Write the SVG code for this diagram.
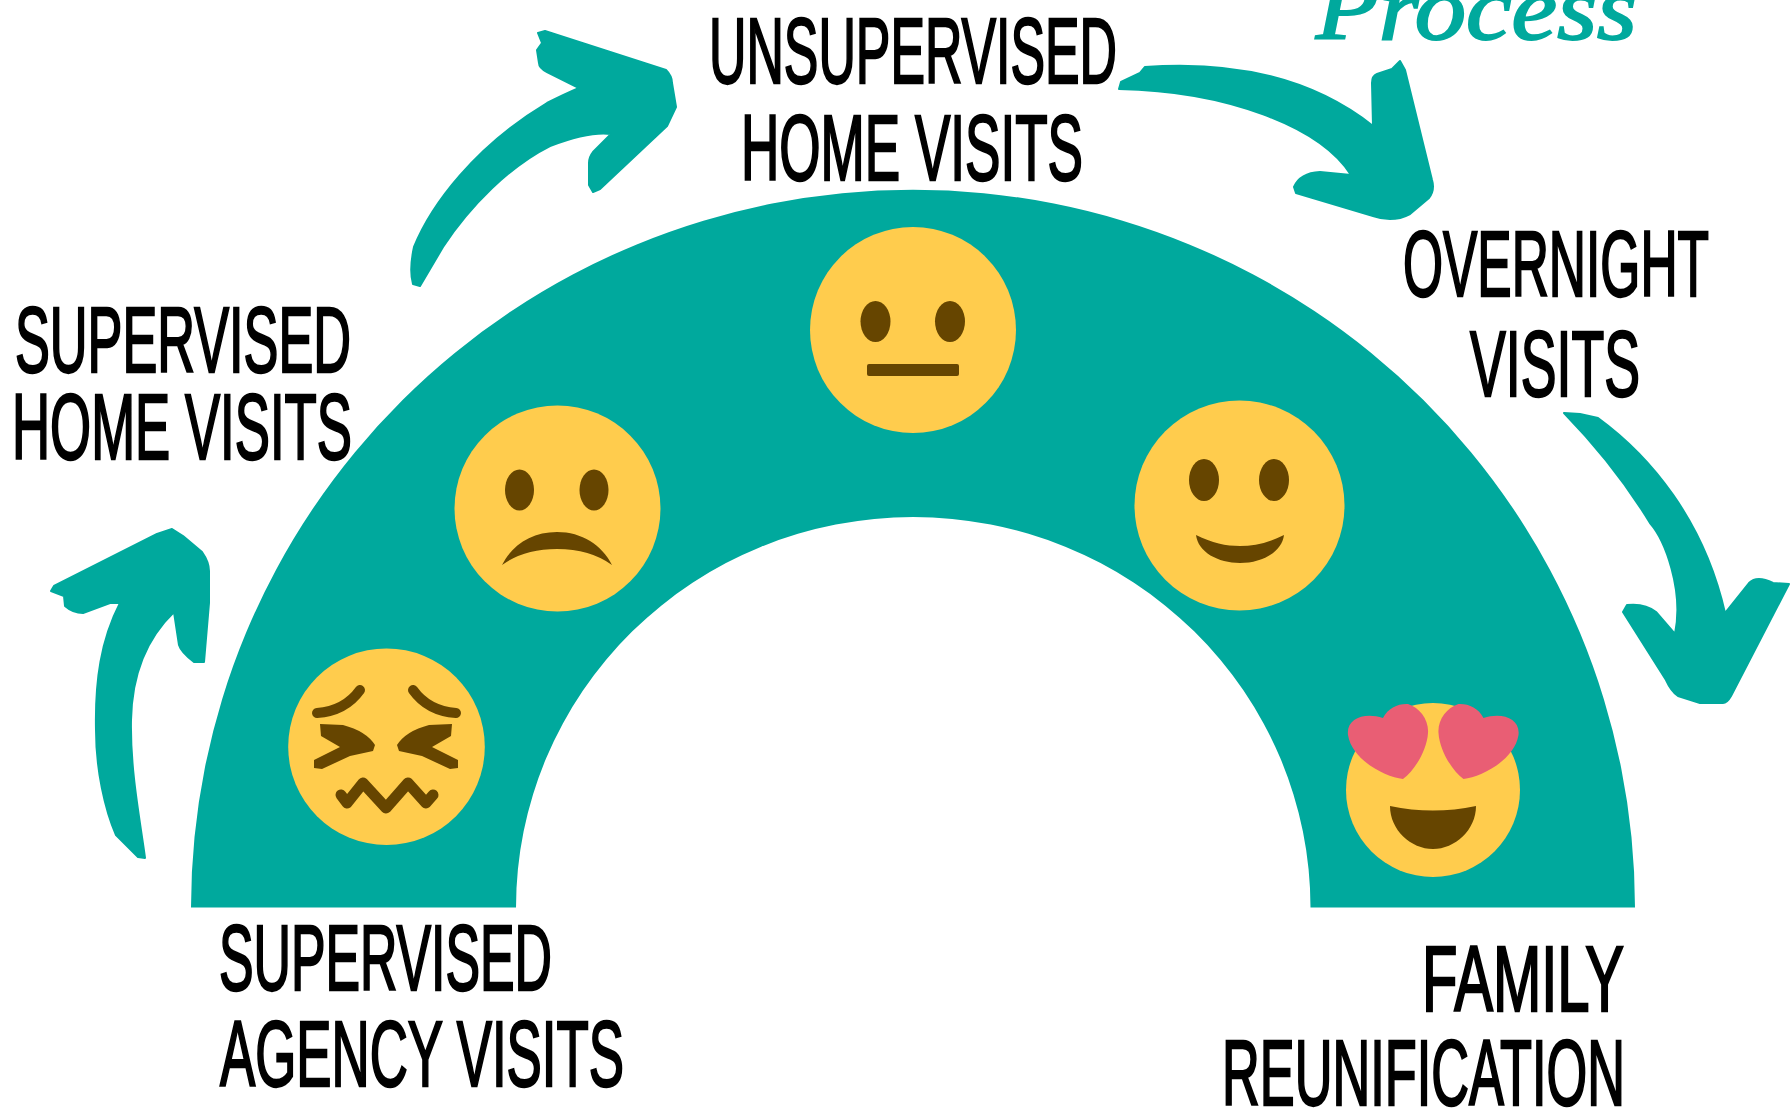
<svg xmlns="http://www.w3.org/2000/svg" width="1792" height="1110" viewBox="0 0 1792 1110">
<style>
.lbl{font-family:"Liberation Sans",Arial,sans-serif;font-size:92px;font-weight:400;fill:#000;stroke:#000;stroke-width:2.4px}
.teal{fill:#00a99d}
.arrow{fill:#00a99d;stroke:#00a99d;stroke-width:2;stroke-linejoin:round}
.face{fill:#ffcc4d}
.ft{fill:#664500}
.ln{fill:none;stroke:#664500;stroke-linecap:round;stroke-linejoin:round}
.heart{fill:#e95e74}
</style>
<rect width="1792" height="1110" fill="#fff"/>
<text x="1316" y="39" font-family="'Liberation Serif',serif" font-style="italic" font-size="90" fill="#00a99d" stroke="#00a99d" stroke-width="2" textLength="321" lengthAdjust="spacingAndGlyphs">Process</text>
<path id="arch" class="teal" d="M191 907.500A722 718 0 0 1 1635 907.500H1310.500A397.250 390.500 0 0 0 516 907.500Z"/>
<g id="connectors">
<path class="arrow" d="M145 858L138 857L116 835C105 810 96 770 96 730C95 680 101 640 120 603L110 603L83 613Q73 613 65 606L64 596L51 591L54 586L157 534L172 529L183 536L202 552Q209 562 209 571L209 603L204 662L194 662Q181 652 179 645L174 612C150 635 132 670 131 720C130 770 140 820 145 858Z"/>
<path class="arrow" d="M420 286L413 284Q409 270 414 247C431 205 475 146 547 103Q565 94 579 88L547 72Q539 68 539 63L537 50L542 43L538 33L545 31L666 70Q672 76 672 83L676 107L667 126L600 189L593 192L589 185L589 163Q589 157 593 152L611 134Q590 131 550 146C510 166 470 206 443 247L420 286Z"/>
<path class="arrow" d="M1119 89L1121 82L1140 73L1145 67C1230 61 1310 76 1373 126L1372 83Q1372 76 1377 74L1392 69L1400 61L1405 70L1432 180Q1435 190 1429 198L1410 214Q1393 223 1373 216L1296 193L1294 187Q1300 173 1320 172L1351 175C1320 126 1225 91 1119 89Z"/>
<path class="arrow" d="M1564 413L1580 414L1598 418C1650 456 1704 520 1725 613L1749 583Q1757 575 1773 583L1789 584L1731 696Q1727 703 1723 703L1700 703L1678 696Q1671 691 1666 680L1623 612L1627 605Q1645 603 1656 612L1675 634C1684 590 1665 540 1650 523C1630 490 1600 450 1564 413Z"/>
</g>
<g id="node-supervised-agency">
<circle class="face" cx="386.500" cy="746.700" r="98.300"/>
<path class="ln" stroke-width="10" d="M360 690Q345 711 317 713"/>
<path class="ln" stroke-width="10" d="M413 690Q428 711 456 713"/>
<path class="ft" d="M320 724L343 725Q366 731 375 745L373 751L350 756L322 769L314 768L314 760L340 747L321 736Z"/>
<path class="ft" transform="matrix(-1 0 0 1 772 0)" d="M320 724L343 725Q366 731 375 745L373 751L350 756L322 769L314 768L314 760L340 747L321 736Z"/>
<path class="ln" stroke-width="11" d="M341 795L347 803L363 783L386 808L408 783L426 803L433 795"/>
<text class="lbl" x="219" y="990" textLength="333" lengthAdjust="spacingAndGlyphs">SUPERVISED</text>
<text class="lbl" x="220" y="1086" textLength="404" lengthAdjust="spacingAndGlyphs">AGENCY VISITS</text>
</g>
<g id="node-supervised-home">
<circle class="face" cx="557.500" cy="508.500" r="103"/>
<ellipse class="ft" cx="519.500" cy="490" rx="14.500" ry="20.500"/>
<ellipse class="ft" cx="594" cy="490" rx="14.500" ry="20.500"/>
<path class="ft" d="M502 565C512 545 532 532 557 532C582 532 602 545 612 565Q590 549 557 549Q524 549 502 565Z"/>
<text class="lbl" x="15" y="372" textLength="336" lengthAdjust="spacingAndGlyphs">SUPERVISED</text>
<text class="lbl" x="12" y="459" textLength="340" lengthAdjust="spacingAndGlyphs">HOME VISITS</text>
</g>
<g id="node-unsupervised-home">
<circle class="face" cx="913" cy="330" r="103"/>
<ellipse class="ft" cx="875.500" cy="321.500" rx="15" ry="20.500"/>
<ellipse class="ft" cx="950" cy="321.500" rx="15" ry="20.500"/>
<rect class="ft" x="867" y="364" width="92" height="12" rx="2"/>
<text class="lbl" x="709" y="83" textLength="408" lengthAdjust="spacingAndGlyphs">UNSUPERVISED</text>
<text class="lbl" x="741" y="180" textLength="342" lengthAdjust="spacingAndGlyphs">HOME VISITS</text>
</g>
<g id="node-overnight">
<circle class="face" cx="1239.500" cy="505.500" r="105"/>
<ellipse class="ft" cx="1204" cy="480" rx="15" ry="21"/>
<ellipse class="ft" cx="1274" cy="480" rx="15" ry="21"/>
<path class="ft" d="M1196 535C1212 543 1226 546 1240 546C1254 546 1268 543 1284 535C1282 552 1262 563 1240 563C1218 563 1198 552 1196 535Z"/>
<text class="lbl" x="1403" y="296" textLength="306" lengthAdjust="spacingAndGlyphs">OVERNIGHT</text>
<text class="lbl" x="1470" y="396" textLength="170" lengthAdjust="spacingAndGlyphs">VISITS</text>
</g>
<g id="node-reunification">
<circle class="face" cx="1433" cy="790" r="87"/>
<path class="heart" d="M1403 779C1385 777 1352 760 1348 735C1346 718 1365 712 1383 718C1388 708 1398 703.500 1408 704C1420 708 1429 720 1428 733C1427 750 1415 770 1403 779Z"/>
<path class="heart" transform="matrix(-1 0 0 1 2866.500 0)" d="M1403 779C1385 777 1352 760 1348 735C1346 718 1365 712 1383 718C1388 708 1398 703.500 1408 704C1420 708 1429 720 1428 733C1427 750 1415 770 1403 779Z"/>
<path class="ft" d="M1390 806Q1433 815 1476 806C1476 830 1455 849 1433 849C1411 849 1390 830 1390 806Z"/>
<text class="lbl" x="1422" y="1011" textLength="202" lengthAdjust="spacingAndGlyphs">FAMILY</text>
<text class="lbl" x="1222" y="1105" textLength="403" lengthAdjust="spacingAndGlyphs">REUNIFICATION</text>
</g>
</svg>
